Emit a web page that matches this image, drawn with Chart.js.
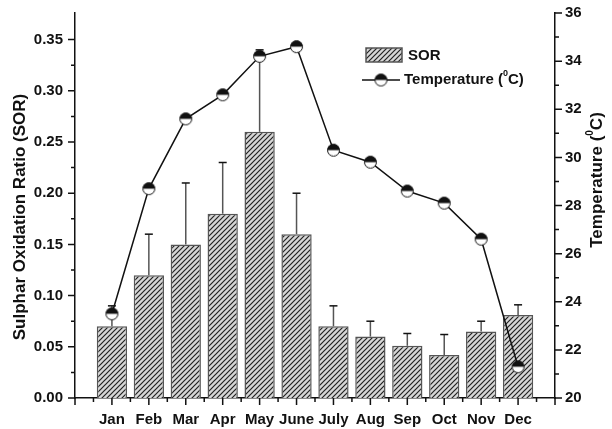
<!DOCTYPE html>
<html>
<head>
<meta charset="utf-8">
<script src="https://cdn.jsdelivr.net/npm/chart.js@4.4.0/dist/chart.umd.min.js"></script>
<style>
html, body { margin: 0; padding: 0; background: #fff; }
#wrap { width: 612px; height: 429px; }
</style>
</head>
<body>
<div id="wrap"><canvas id="sorChart" width="612" height="429"></canvas></div>
<script>
// data
const months = ["Jan", "Feb", "Mar", "Apr", "May", "June", "July", "Aug", "Sep", "Oct", "Nov", "Dec"];
const sorValues = [0.07, 0.12, 0.15, 0.18, 0.26, 0.16, 0.07, 0.06, 0.051, 0.042, 0.065, 0.081];
const sorErrors = [0.02, 0.04, 0.06, 0.05, 0.08, 0.04, 0.02, 0.015, 0.012, 0.02, 0.01, 0.01];
const tempValues = [23.5, 28.7, 31.6, 32.6, 34.2, 34.6, 30.3, 29.8, 28.6, 28.1, 26.6, 21.3];
const sorTicks = [0, 0.05, 0.10, 0.15, 0.20, 0.25, 0.30, 0.35];
const tempTicks = [20, 22, 24, 26, 28, 30, 32, 34, 36];

const fnt = (s) => `bold ${s}px "Liberation Sans", Arial, sans-serif`;
Chart.defaults.font.family = '"Liberation Sans", Arial, sans-serif';
Chart.defaults.font.weight = 'bold';
Chart.defaults.font.size = 15;
Chart.defaults.color = '#111';

// hatch fill for the bars
function makeHatch() {
  const c = document.createElement('canvas');
  c.width = 5; c.height = 5;
  const g = c.getContext('2d');
  g.fillStyle = '#d6d6d6';
  g.fillRect(0, 0, 5, 5);
  g.strokeStyle = '#222';
  g.lineWidth = 1.2;
  g.beginPath();
  g.moveTo(-1, 6); g.lineTo(6, -1);
  g.moveTo(-1, 1); g.lineTo(1, -1);
  g.moveTo(4, 6); g.lineTo(6, 4);
  g.stroke();
  return g.createPattern(c, 'repeat');
}

// half filled circle marker
function makeMarker() {
  const c = document.createElement('canvas');
  c.width = 15; c.height = 15;
  const g = c.getContext('2d');
  g.fillStyle = '#fff';
  g.beginPath(); g.arc(7.5, 7.5, 6, 0, Math.PI * 2); g.fill();
  g.fillStyle = '#111';
  g.beginPath(); g.arc(7.5, 7.5, 6, Math.PI, 0); g.closePath(); g.fill();
  g.strokeStyle = '#111'; g.lineWidth = 1;
  g.beginPath(); g.arc(7.5, 7.5, 6, 0, Math.PI * 2); g.stroke();
  return c;
}

const hatch = makeHatch();
const marker = makeMarker();

const errorBars = {
  id: 'errorBars',
  afterDatasetDraw(chart, args) {
    if (args.index !== 0) return;
    const ctx = chart.ctx;
    const y = chart.scales.y;
    const meta = chart.getDatasetMeta(0);
    ctx.save();
    ctx.lineWidth = 1.5;
    meta.data.forEach((bar, i) => {
      const top = y.getPixelForValue(sorValues[i] + sorErrors[i]);
      ctx.strokeStyle = '#555';
      ctx.beginPath(); ctx.moveTo(bar.x, bar.y); ctx.lineTo(bar.x, top); ctx.stroke();
      ctx.strokeStyle = '#111';
      ctx.beginPath(); ctx.moveTo(bar.x - 4, top); ctx.lineTo(bar.x + 4, top); ctx.stroke();
    });
    ctx.restore();
  }
};

const decorations = {
  id: 'decorations',
  afterDraw(chart) {
    const ctx = chart.ctx;
    const { x, y, y1 } = chart.scales;
    const area = chart.chartArea;
    ctx.save();
    ctx.strokeStyle = '#111';
    ctx.lineWidth = 1.5;

    // tick marks, major and minor
    ctx.beginPath();
    for (let v = 0; v <= 13; v += 0.5) {
      const px = x.getPixelForValue(v);
      const len = Number.isInteger(v) ? 7 : 4;
      ctx.moveTo(px, area.bottom); ctx.lineTo(px, area.bottom + len);
    }
    sorTicks.forEach(v => {
      const py = y.getPixelForValue(v);
      ctx.moveTo(area.left, py); ctx.lineTo(area.left - 7, py);
      if (v < 0.35) {
        const pm = y.getPixelForValue(v + 0.025);
        ctx.moveTo(area.left, pm); ctx.lineTo(area.left - 4, pm);
      }
    });
    tempTicks.forEach(v => {
      const py = y1.getPixelForValue(v);
      ctx.moveTo(area.right, py); ctx.lineTo(area.right + 7, py);
      if (v < 36) {
        const pm = y1.getPixelForValue(v + 1);
        ctx.moveTo(area.right, pm); ctx.lineTo(area.right + 4, pm);
      }
    });
    ctx.stroke();

    // axis titles
    ctx.fillStyle = '#111';
    ctx.textBaseline = 'middle';
    ctx.font = fnt(17);
    ctx.save();
    ctx.translate(20, 217);
    ctx.rotate(-Math.PI / 2);
    ctx.textAlign = 'center';
    ctx.fillText('Sulphar Oxidation Ratio (SOR)', 0, 0);
    ctx.restore();

    drawTempLabel(ctx, 597, 180, 17);

    // legend
    ctx.fillStyle = hatch;
    ctx.fillRect(366, 48, 36, 14);
    ctx.strokeStyle = '#555';
    ctx.strokeRect(366, 48, 36, 14);
    ctx.fillStyle = '#111';
    ctx.font = fnt(15);
    ctx.textAlign = 'left';
    ctx.fillText('SOR', 408, 56);
    ctx.strokeStyle = '#111';
    ctx.beginPath(); ctx.moveTo(362, 80); ctx.lineTo(400, 80); ctx.stroke();
    ctx.drawImage(marker, 381 - 7.5, 80 - 7.5);
    ctx.save();
    ctx.translate(404, 80);
    drawTempParts(ctx, 15);
    ctx.restore();

    ctx.restore();
  }
};

function drawTempParts(ctx, size) {
  // "Temperature (" + superscript 0 + "C)", drawn from the local origin
  ctx.textAlign = 'left';
  ctx.textBaseline = 'middle';
  ctx.font = fnt(size);
  const a = 'Temperature (';
  ctx.fillText(a, 0, 0);
  let w = ctx.measureText(a).width;
  ctx.font = fnt(Math.round(size * 0.6));
  ctx.fillText('0', w, -size * 0.4);
  w += ctx.measureText('0').width;
  ctx.font = fnt(size);
  ctx.fillText('C)', w, 0);
}

function drawTempLabel(ctx, cx, cy, size) {
  ctx.save();
  ctx.font = fnt(size);
  let w = ctx.measureText('Temperature (').width + ctx.measureText('C)').width;
  ctx.font = fnt(Math.round(size * 0.6));
  w += ctx.measureText('0').width;
  ctx.translate(cx, cy);
  ctx.rotate(-Math.PI / 2);
  ctx.translate(-w / 2, 0);
  drawTempParts(ctx, size);
  ctx.restore();
}

new Chart(document.getElementById('sorChart'), {
  type: 'bar',
  data: {
    datasets: [
      {
        type: 'bar',
        label: 'SOR',
        data: sorValues.map((v, i) => ({ x: i + 1, y: v })),
        yAxisID: 'y',
        backgroundColor: hatch,
        borderColor: '#555',
        borderWidth: 1.5,
        barPercentage: 0.82,
        categoryPercentage: 1,
        order: 2
      },
      {
        type: 'line',
        label: 'Temperature',
        data: tempValues.map((v, i) => ({ x: i + 1, y: v })),
        yAxisID: 'y1',
        borderColor: '#111',
        borderWidth: 1.5,
        pointStyle: marker,
        tension: 0,
        order: 1
      }
    ]
  },
  options: {
    responsive: false,
    animation: false,
    devicePixelRatio: 1,
    layout: { padding: { top: 6, left: 0, right: 0, bottom: 0 } },
    plugins: { legend: { display: false }, tooltip: { enabled: false } },
    scales: {
      x: {
        type: 'linear', min: 0, max: 13, offset: false,
        grid: { display: false },
        border: { color: '#111', width: 1.5 },
        ticks: { stepSize: 1, autoSkip: false, maxRotation: 0, padding: 5,
                 callback: v => months[v - 1] || '' },
        afterFit: s => { s.height = 31; }
      },
      y: {
        position: 'left', min: 0, max: 0.376,
        grid: { display: false },
        border: { color: '#111', width: 1.5 },
        ticks: { stepSize: 0.05, includeBounds: false, padding: 4,
                 callback: v => v.toFixed(2) },
        afterFit: s => { s.width = 75; }
      },
      y1: {
        position: 'right', min: 20, max: 36,
        grid: { display: false },
        border: { color: '#111', width: 1.5 },
        ticks: { stepSize: 2, padding: 2 },
        afterFit: s => { s.width = 57; }
      }
    }
  },
  plugins: [errorBars, decorations]
});
</script>
</body>
</html>
